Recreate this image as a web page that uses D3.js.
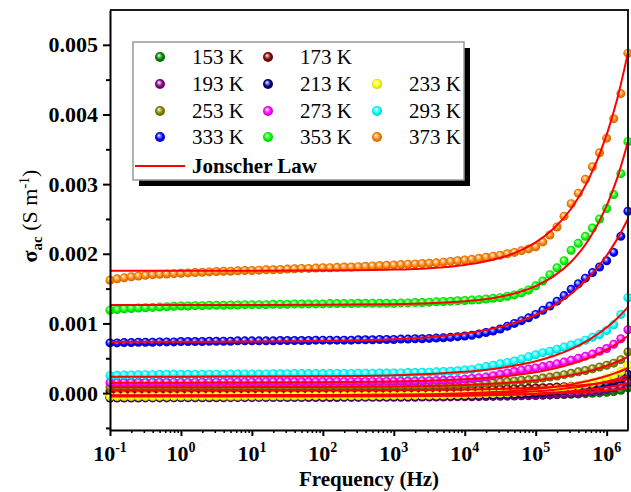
<!DOCTYPE html>
<html>
<head>
<meta charset="utf-8">
<script src="https://cdn.jsdelivr.net/npm/d3@7"></script>
<style>
  body { margin: 0; background: #fff; }
  text { font-family: "Liberation Serif", "Times New Roman", serif; }
</style>
</head>
<body>
<svg id="chart" width="631" height="492"></svg>
<script>
"use strict";

// measured frequencies (Hz), 10 points per decade
const freq = [
  0.1, 0.1259, 0.1585, 0.1995, 0.2512, 0.3162, 0.3981, 0.5012, 0.631, 0.7943,
  1, 1.259, 1.585, 1.995, 2.512, 3.162, 3.981, 5.012, 6.31, 7.943,
  10, 12.59, 15.85, 19.95, 25.12, 31.62, 39.81, 50.12, 63.1, 79.43,
  100, 125.9, 158.5, 199.5, 251.2, 316.2, 398.1, 501.2, 631, 794.3,
  1000, 1259, 1585, 1995, 2512, 3162, 3981, 5012, 6310, 7943,
  1e4, 12590, 15850, 19950, 25120, 31620, 39810, 50120, 63100, 79430,
  1e5, 125900, 158500, 199500, 251200, 316200, 398100, 501200, 631000, 794300,
  1e6, 1259000, 1585000, 1995000
];

// frequencies where the Jonscher fit curves are sampled
const fitFreq = [0.1, 1, 10, 100, 1000, 3162, 1e4, 17780, 31620, 56230, 1e5, 177800, 316200, 562300, 1e6, 1413000, 1995000];

const temps = ["153 K", "173 K", "193 K", "213 K", "233 K", "253 K", "273 K", "293 K", "333 K", "353 K", "373 K"];
const colors = ["#008000", "#800000", "#800080", "#000080", "#FFFF00", "#808000", "#FF00FF", "#00FFFF", "#0000FF", "#00FF00", "#FF8000"];

// sigma_ac, in units of 1e-3 S/m
const s153 = [
  -0.05, -0.05, -0.05, -0.05, -0.05, -0.05, -0.049, -0.049, -0.049, -0.049,
  -0.049, -0.049, -0.048, -0.048, -0.048, -0.048, -0.048, -0.048, -0.047, -0.047,
  -0.047, -0.047, -0.047, -0.047, -0.046, -0.046, -0.046, -0.046, -0.046, -0.046,
  -0.045, -0.045, -0.045, -0.045, -0.045, -0.045, -0.044, -0.044, -0.044, -0.044,
  -0.044, -0.043, -0.043, -0.043, -0.042, -0.042, -0.042, -0.041, -0.041, -0.04,
  -0.04, -0.039, -0.039, -0.038, -0.037, -0.036, -0.035, -0.034, -0.033, -0.032,
  -0.03, -0.028, -0.026, -0.023, -0.02, -0.017, -0.013, -0.008, -0.003, 0.003,
  0.011, 0.022, 0.04, 0.075
];
const s173 = [
  0.03, 0.03, 0.03, 0.03, 0.031, 0.031, 0.031, 0.031, 0.032, 0.032,
  0.032, 0.032, 0.033, 0.033, 0.033, 0.033, 0.034, 0.034, 0.034, 0.034,
  0.035, 0.035, 0.035, 0.035, 0.036, 0.036, 0.036, 0.036, 0.037, 0.037,
  0.037, 0.037, 0.038, 0.038, 0.038, 0.039, 0.039, 0.04, 0.04, 0.041,
  0.041, 0.042, 0.042, 0.043, 0.044, 0.045, 0.046, 0.047, 0.048, 0.049,
  0.05, 0.051, 0.053, 0.055, 0.057, 0.059, 0.061, 0.064, 0.067, 0.07,
  0.073, 0.077, 0.081, 0.086, 0.091, 0.097, 0.104, 0.112, 0.12, 0.13,
  0.142, 0.156, 0.175, 0.21
];
const s193 = [
  -0.07, -0.07, -0.07, -0.07, -0.07, -0.069, -0.069, -0.069, -0.069, -0.068,
  -0.068, -0.068, -0.068, -0.067, -0.067, -0.067, -0.067, -0.066, -0.066, -0.066,
  -0.066, -0.065, -0.065, -0.065, -0.065, -0.064, -0.064, -0.064, -0.064, -0.063,
  -0.063, -0.063, -0.063, -0.062, -0.062, -0.062, -0.061, -0.061, -0.061, -0.06,
  -0.06, -0.06, -0.059, -0.059, -0.058, -0.058, -0.057, -0.056, -0.055, -0.054,
  -0.053, -0.052, -0.051, -0.049, -0.048, -0.046, -0.044, -0.042, -0.04, -0.037,
  -0.034, -0.03, -0.026, -0.021, -0.015, -0.008, 0.0, 0.01, 0.021, 0.034,
  0.05, 0.07, 0.1, 0.15
];
const s213 = [
  -0.06, -0.06, -0.06, -0.06, -0.059, -0.059, -0.059, -0.058, -0.058, -0.058,
  -0.057, -0.057, -0.057, -0.056, -0.056, -0.056, -0.055, -0.055, -0.055, -0.054,
  -0.054, -0.054, -0.053, -0.053, -0.053, -0.052, -0.052, -0.052, -0.051, -0.051,
  -0.051, -0.05, -0.05, -0.05, -0.049, -0.049, -0.048, -0.048, -0.047, -0.047,
  -0.046, -0.046, -0.045, -0.044, -0.043, -0.042, -0.041, -0.04, -0.038, -0.036,
  -0.034, -0.032, -0.03, -0.027, -0.024, -0.021, -0.017, -0.013, -0.009, -0.005,
  0.0, 0.008, 0.016, 0.025, 0.035, 0.047, 0.06, 0.075, 0.092, 0.11,
  0.135, 0.165, 0.205, 0.27
];
const s233 = [
  -0.05, -0.05, -0.05, -0.05, -0.049, -0.049, -0.049, -0.048, -0.048, -0.048,
  -0.047, -0.047, -0.047, -0.046, -0.046, -0.046, -0.045, -0.045, -0.045, -0.044,
  -0.044, -0.044, -0.043, -0.043, -0.043, -0.042, -0.042, -0.042, -0.041, -0.041,
  -0.041, -0.04, -0.04, -0.04, -0.039, -0.039, -0.038, -0.038, -0.037, -0.037,
  -0.036, -0.035, -0.034, -0.033, -0.032, -0.031, -0.03, -0.028, -0.026, -0.024,
  -0.02, -0.017, -0.014, -0.011, -0.008, -0.004, 0.0, 0.006, 0.013, 0.02,
  0.03, 0.04, 0.05, 0.06, 0.075, 0.09, 0.11, 0.13, 0.15, 0.175,
  0.21, 0.25, 0.31, 0.40
];
const s253 = [
  0.088, 0.089, 0.09, 0.09, 0.09, 0.091, 0.091, 0.091, 0.092, 0.092,
  0.092, 0.093, 0.093, 0.093, 0.094, 0.094, 0.094, 0.095, 0.095, 0.095,
  0.095, 0.096, 0.096, 0.096, 0.097, 0.097, 0.097, 0.098, 0.098, 0.098,
  0.099, 0.099, 0.1, 0.1, 0.1, 0.101, 0.101, 0.102, 0.102, 0.103,
  0.104, 0.105, 0.106, 0.107, 0.108, 0.11, 0.112, 0.114, 0.117, 0.12,
  0.125, 0.13, 0.14, 0.145, 0.15, 0.16, 0.165, 0.175, 0.185, 0.19,
  0.2, 0.215, 0.23, 0.245, 0.265, 0.285, 0.305, 0.325, 0.35, 0.375,
  0.4, 0.43, 0.48, 0.59
];
const s273 = [
  0.15, 0.15, 0.152, 0.152, 0.155, 0.155, 0.155, 0.155, 0.157, 0.157,
  0.157, 0.157, 0.158, 0.158, 0.158, 0.16, 0.16, 0.16, 0.16, 0.16,
  0.16, 0.16, 0.162, 0.162, 0.162, 0.162, 0.163, 0.163, 0.163, 0.163,
  0.164, 0.164, 0.165, 0.165, 0.165, 0.166, 0.166, 0.167, 0.168, 0.169,
  0.17, 0.171, 0.172, 0.174, 0.176, 0.178, 0.18, 0.184, 0.188, 0.193,
  0.2, 0.21, 0.22, 0.23, 0.25, 0.27, 0.29, 0.31, 0.33, 0.345,
  0.36, 0.38, 0.4, 0.42, 0.445, 0.47, 0.5, 0.53, 0.56, 0.6,
  0.64, 0.7, 0.78, 0.91
];
const s293 = [
  0.25, 0.255, 0.26, 0.26, 0.265, 0.265, 0.265, 0.27, 0.27, 0.27,
  0.27, 0.27, 0.27, 0.27, 0.272, 0.272, 0.272, 0.275, 0.275, 0.275,
  0.275, 0.275, 0.275, 0.278, 0.278, 0.278, 0.28, 0.28, 0.28, 0.28,
  0.28, 0.28, 0.282, 0.282, 0.282, 0.285, 0.285, 0.285, 0.288, 0.288,
  0.29, 0.29, 0.295, 0.295, 0.3, 0.3, 0.305, 0.31, 0.315, 0.32,
  0.33, 0.34, 0.36, 0.38, 0.4, 0.42, 0.44, 0.46, 0.49, 0.52,
  0.55, 0.58, 0.6, 0.63, 0.66, 0.69, 0.72, 0.76, 0.8, 0.84,
  0.9, 0.98, 1.13, 1.37
];
const s333 = [
  0.72, 0.72, 0.725, 0.725, 0.73, 0.73, 0.73, 0.735, 0.735, 0.735,
  0.74, 0.74, 0.74, 0.74, 0.745, 0.745, 0.745, 0.745, 0.75, 0.75,
  0.75, 0.75, 0.75, 0.75, 0.755, 0.755, 0.755, 0.755, 0.755, 0.76,
  0.76, 0.76, 0.76, 0.76, 0.76, 0.765, 0.765, 0.765, 0.77, 0.77,
  0.77, 0.775, 0.775, 0.78, 0.78, 0.785, 0.79, 0.795, 0.8, 0.81,
  0.82, 0.83, 0.85, 0.87, 0.89, 0.92, 0.96, 1.0, 1.04, 1.08,
  1.13, 1.19, 1.25, 1.32, 1.4, 1.49, 1.57, 1.65, 1.73, 1.81,
  1.9, 2.02, 2.25, 2.61
];
const s353 = [
  1.19, 1.2, 1.21, 1.215, 1.22, 1.225, 1.23, 1.235, 1.24, 1.245,
  1.25, 1.25, 1.255, 1.255, 1.26, 1.26, 1.26, 1.265, 1.265, 1.27,
  1.27, 1.27, 1.27, 1.275, 1.275, 1.275, 1.28, 1.28, 1.28, 1.28,
  1.28, 1.285, 1.285, 1.285, 1.285, 1.29, 1.29, 1.29, 1.29, 1.29,
  1.29, 1.295, 1.295, 1.3, 1.3, 1.305, 1.31, 1.315, 1.32, 1.325,
  1.33, 1.335, 1.34, 1.35, 1.36, 1.37, 1.39, 1.41, 1.44, 1.48,
  1.54, 1.61, 1.7, 1.8, 1.9, 2.05, 2.15, 2.25, 2.37, 2.5,
  2.65, 2.85, 3.15, 3.61
];
const s373 = [
  1.62, 1.64, 1.655, 1.67, 1.68, 1.69, 1.7, 1.705, 1.71, 1.715,
  1.72, 1.725, 1.73, 1.735, 1.74, 1.745, 1.75, 1.75, 1.755, 1.76,
  1.76, 1.765, 1.77, 1.77, 1.775, 1.78, 1.785, 1.79, 1.79, 1.795,
  1.8, 1.8, 1.805, 1.81, 1.81, 1.815, 1.82, 1.825, 1.83, 1.835,
  1.84, 1.845, 1.85, 1.855, 1.86, 1.865, 1.87, 1.88, 1.89, 1.9,
  1.91, 1.92, 1.935, 1.95, 1.965, 1.98, 2.0, 2.02, 2.045, 2.07,
  2.1, 2.17, 2.27, 2.385, 2.54, 2.72, 2.87, 3.07, 3.25, 3.45,
  3.66, 3.94, 4.3, 4.88
];

// Jonscher law fit curves (1e-3 S/m) at fitFreq
const fit153 = [-0.04, -0.04, -0.04, -0.039, -0.038, -0.036, -0.032, -0.03, -0.026, -0.022, -0.015, -0.007, 0.004, 0.018, 0.038, 0.052, 0.07];
const fit173 = [0.04, 0.04, 0.04, 0.041, 0.044, 0.046, 0.051, 0.055, 0.06, 0.067, 0.076, 0.088, 0.104, 0.125, 0.153, 0.174, 0.2];
const fit193 = [-0.05, -0.05, -0.05, -0.049, -0.046, -0.042, -0.037, -0.032, -0.026, -0.018, -0.008, 0.007, 0.025, 0.051, 0.084, 0.11, 0.14];
const fit213 = [-0.04, -0.04, -0.039, -0.038, -0.034, -0.028, -0.02, -0.013, -0.004, 0.009, 0.025, 0.046, 0.075, 0.114, 0.165, 0.203, 0.25];
const fit233 = [-0.03, -0.03, -0.029, -0.027, -0.021, -0.015, -0.002, 0.007, 0.019, 0.035, 0.057, 0.086, 0.125, 0.177, 0.245, 0.297, 0.36];
const fit253 = [0.085, 0.085, 0.086, 0.088, 0.095, 0.102, 0.116, 0.126, 0.14, 0.158, 0.182, 0.215, 0.258, 0.315, 0.392, 0.45, 0.52];
const fit273 = [0.15, 0.15, 0.151, 0.155, 0.165, 0.177, 0.197, 0.213, 0.234, 0.262, 0.3, 0.35, 0.416, 0.505, 0.623, 0.712, 0.82];
const fit293 = [0.235, 0.236, 0.237, 0.242, 0.257, 0.275, 0.306, 0.329, 0.361, 0.403, 0.458, 0.533, 0.632, 0.765, 0.941, 1.075, 1.235];
const fit333 = [0.735, 0.736, 0.739, 0.747, 0.772, 0.802, 0.855, 0.896, 0.951, 1.024, 1.121, 1.252, 1.428, 1.663, 1.976, 2.214, 2.5];
const fit353 = [1.265, 1.265, 1.265, 1.267, 1.275, 1.288, 1.317, 1.343, 1.383, 1.444, 1.536, 1.675, 1.886, 2.205, 2.688, 3.089, 3.61];
const fit373 = [1.755, 1.755, 1.756, 1.759, 1.773, 1.794, 1.84, 1.881, 1.942, 2.031, 2.163, 2.358, 2.647, 3.075, 3.707, 4.225, 4.885];

const yTicks = [0, 0.001, 0.002, 0.003, 0.004, 0.005];
const xTicks = [0.1, 1, 10, 100, 1000, 1e4, 1e5, 1e6];

const dataSets = [s153, s173, s193, s213, s233, s253, s273, s293, s333, s353, s373];
const fitSets = [fit153, fit173, fit193, fit213, fit233, fit253, fit273, fit293, fit333, fit353, fit373];
const UNIT = 1e-3;

const W = 631, H = 492;
const margin = {top: 10, right: 3, bottom: 62, left: 110};
const svg = d3.select("#chart");

const x = d3.scaleLog().domain([0.1, 2e6]).range([margin.left, W - margin.right]);
const y = d3.scaleLinear().domain([-0.00053, 0.0055]).range([H - margin.bottom, margin.top]);

// sphere-looking markers
const defs = svg.append("defs");
colors.forEach((c, i) => {
  const g = defs.append("radialGradient").attr("id", "ball" + i)
    .attr("cx", "50%").attr("cy", "50%").attr("r", "55%")
    .attr("fx", "38%").attr("fy", "32%");
  g.append("stop").attr("offset", "0%").attr("stop-color", "#fff");
  g.append("stop").attr("offset", "30%").attr("stop-color", d3.interpolateRgb("#fff", c)(0.55));
  g.append("stop").attr("offset", "60%").attr("stop-color", c);
  g.append("stop").attr("offset", "100%").attr("stop-color", d3.color(c).darker(0.9));
});

// markers
dataSets.forEach((vals, i) => {
  svg.append("g")
    .selectAll("circle")
    .data(vals.map((v, k) => ({f: freq[k], v: v})))
    .enter()
    .append("circle")
    .attr("cx", d => x(d.f))
    .attr("cy", d => y(d.v * UNIT))
    .attr("r", 4.5)
    .attr("fill", "url(#ball" + i + ")");
});

// fit curves
const line = d3.line()
  .x(d => x(d.f))
  .y(d => y(d.v * UNIT))
  .curve(d3.curveMonotoneX);

fitSets.forEach(vals => {
  svg.append("path")
    .datum(vals.map((v, k) => ({f: fitFreq[k], v: v})))
    .attr("fill", "none")
    .attr("stroke", "#FF0000")
    .attr("stroke-width", 2)
    .attr("d", line);
});

// frame
const x0 = margin.left, x1 = W - margin.right, y0 = margin.top, y1 = H - margin.bottom;
svg.append("path")
  .attr("d", `M${x0},${y0}H${x1}V${y1}`)
  .attr("fill", "none").attr("stroke", "#1a1a1a").attr("stroke-width", 2);

// y axis
const yMinor = d3.range(-0.0005, 0.0055, 0.001);
svg.append("g").attr("transform", `translate(${x0},0)`)
  .call(d3.axisLeft(y).tickValues(yMinor).tickSize(4).tickSizeOuter(0).tickFormat(""))
  .call(g => g.select(".domain").remove())
  .selectAll("line").attr("stroke-width", 2);

const yAx = svg.append("g").attr("transform", `translate(${x0},0)`)
  .call(d3.axisLeft(y).tickValues(yTicks).tickSize(7).tickSizeOuter(0).tickPadding(5).tickFormat(d3.format(".3f")));
yAx.select(".domain").attr("stroke-width", 2);
yAx.selectAll("line").attr("stroke-width", 2);
yAx.selectAll("text")
  .attr("font-family", "'Liberation Serif', 'Times New Roman', serif")
  .attr("font-size", 22).attr("font-weight", "bold").attr("fill", "#000");

// x axis
const xMinor = [];
xTicks.forEach(t => { for (let m = 2; m <= 9; m++) if (t * m < 1.99e6) xMinor.push(t * m); });
svg.append("g").attr("transform", `translate(0,${y1})`)
  .call(d3.axisBottom(x).tickValues(xMinor).tickSize(3).tickSizeOuter(0).tickFormat(""))
  .call(g => g.select(".domain").remove())
  .selectAll("line").attr("stroke-width", 1.5);

const xAx = svg.append("g").attr("transform", `translate(0,${y1})`)
  .call(d3.axisBottom(x).tickValues(xTicks).tickSize(6).tickSizeOuter(0).tickFormat(""));
xAx.select(".domain").attr("stroke-width", 2);
xAx.selectAll("line").attr("stroke-width", 2);

const xLab = svg.append("g");
xTicks.forEach(t => {
  const tx = xLab.append("text")
    .attr("x", x(t)).attr("y", 461)
    .attr("text-anchor", "middle")
    .attr("font-size", 22).attr("font-weight", "bold");
  tx.append("tspan").text("10");
  tx.append("tspan").attr("dy", -9).attr("font-size", 14).text(String(Math.round(Math.log10(t))));
});

svg.append("text")
  .attr("x", (x0 + x1) / 2).attr("y", 486)
  .attr("text-anchor", "middle")
  .attr("font-size", 21).attr("font-weight", "bold")
  .text("Frequency (Hz)");

// y label
const yl = svg.append("text")
  .attr("transform", "translate(37,216) rotate(-90)")
  .attr("text-anchor", "middle")
  .attr("font-size", 22);
yl.append("tspan").attr("font-weight", "bold").text("σ");
yl.append("tspan").attr("font-weight", "bold").attr("font-size", 15).attr("dy", 5).text("ac");
yl.append("tspan").attr("dy", -5).text(" (S m");
yl.append("tspan").attr("font-size", 14).attr("dy", -8).text("-1");
yl.append("tspan").attr("dy", 8).text(")");

// legend
const lg = svg.append("g");
const box = {x: 133, y: 42, w: 331, h: 138};
lg.append("rect").attr("x", box.x + 6).attr("y", box.y + 6).attr("width", box.w).attr("height", box.h).attr("fill", "#000");
lg.append("rect").attr("x", box.x).attr("y", box.y).attr("width", box.w).attr("height", box.h)
  .attr("fill", "#fff").attr("stroke", "#999").attr("stroke-width", 1.5);

const slots = [[0, 0], [0, 1], [1, 0], [1, 1], [1, 2], [2, 0], [2, 1], [2, 2], [3, 0], [3, 1], [3, 2]];
const colX = [160, 268, 377];
const rowY = [57, 84, 111, 137];
temps.forEach((t, i) => {
  const [r, c] = slots[i];
  lg.append("circle").attr("cx", colX[c]).attr("cy", rowY[r]).attr("r", 5).attr("fill", "url(#ball" + i + ")");
  lg.append("text").attr("x", colX[c] + 32).attr("y", rowY[r] + 7)
    .attr("font-size", 21).text(t);
});
lg.append("line").attr("x1", 135).attr("x2", 185).attr("y1", 166).attr("y2", 166)
  .attr("stroke", "#FF0000").attr("stroke-width", 2);
lg.append("text").attr("x", 192).attr("y", 173)
  .attr("font-size", 21).attr("font-weight", "bold").text("Jonscher Law");
</script>
</body>
</html>
